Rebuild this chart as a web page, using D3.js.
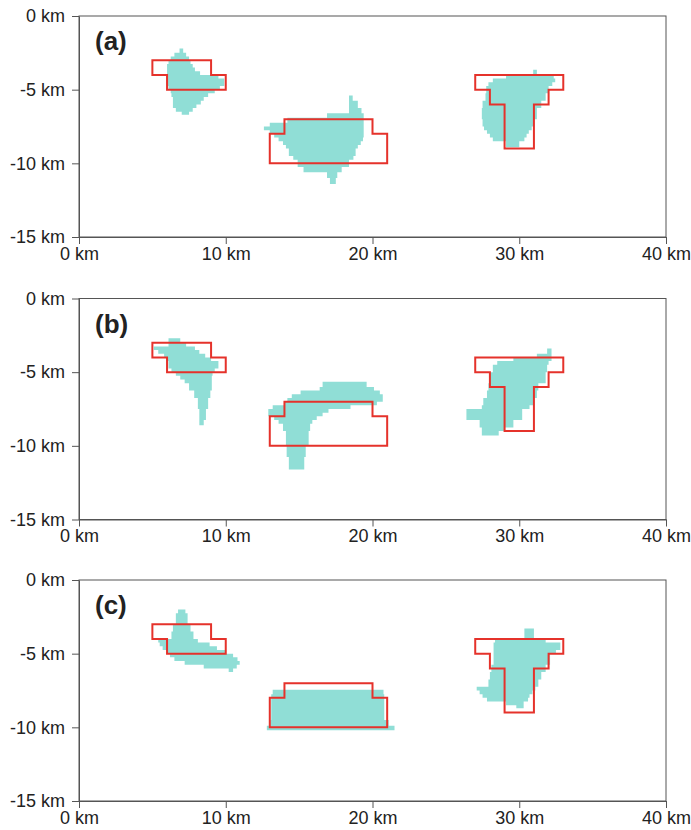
<!DOCTYPE html>
<html>
<head>
<meta charset="utf-8">
<script src="https://cdn.jsdelivr.net/npm/d3@7"></script>
<style>
  body { margin: 0; background: #fff; }
  text { font-family: Arial, "Liberation Sans", sans-serif; }
</style>
</head>
<body>
<script>
// axis ticks (km)
const xTicks = [0, 10, 20, 30, 40]
const yTicks = [0, -5, -10, -15]
const panelLabels = ['(a)', '(b)', '(c)']

// true bodies, outline vertices [x km, z km]
const trueBodies = [
  [[5,-3],[9,-3],[9,-4],[10,-4],[10,-5],[6,-5],[6,-4],[5,-4]],
  [[14,-7],[20,-7],[20,-8],[21,-8],[21,-10],[13,-10],[13,-8],[14,-8]],
  [[27,-4],[33,-4],[33,-5],[32,-5],[32,-6],[31,-6],[31,-9],[29,-9],[29,-6],[28,-6],[28,-5],[27,-5]]
]

// recovered bodies, rows [zTop, zBottom, xLeft, xRight] in km
const blobsA = [
  [[-2.2,-2.5,6.85,7.1],[-2.5,-2.75,6.5,7.3],[-2.75,-3.0,6.25,7.5],[-3.0,-3.25,6.1,7.6],
   [-3.25,-3.5,6.0,7.75],[-3.5,-3.75,6.0,7.9],[-3.75,-4.0,6.0,8.25],[-4.0,-4.25,6.0,9.5],
   [-4.25,-4.75,6.0,9.9],[-4.75,-5.0,6.1,9.6],[-5.0,-5.25,6.25,9.25],[-5.25,-5.5,6.3,8.8],
   [-5.5,-5.75,6.4,8.5],[-5.75,-6.0,6.4,8.3],[-6.0,-6.25,6.4,8.0],[-6.25,-6.5,6.6,7.75],
   [-6.5,-6.7,7.0,7.5]],
  [[-5.4,-5.75,18.4,18.65],[-5.75,-6.25,18.4,19.0],[-6.25,-6.6,18.4,19.25],[-6.6,-6.9,16.9,19.4],
   [-6.9,-7.25,14.2,19.4],[-7.25,-7.5,13.0,19.4],[-7.5,-7.75,12.6,19.4],[-7.75,-8.0,13.0,19.4],
   [-8.0,-8.25,13.3,19.4],[-8.25,-8.5,13.6,19.35],[-8.5,-8.75,13.9,19.2],[-8.75,-9.0,14.1,19.0],
   [-9.0,-9.5,14.3,18.85],[-9.5,-9.75,14.6,18.7],[-9.75,-10.25,14.9,18.4],[-10.25,-10.6,15.3,17.9],
   [-10.6,-11.0,16.9,17.6],[-11.0,-11.4,17.1,17.5]],
  [[-3.65,-4.0,30.95,31.2],[-4.0,-4.25,29.1,32.35],[-4.25,-4.5,28.2,32.45],[-4.5,-4.75,27.9,32.25],
   [-4.75,-5.25,27.75,32.0],[-5.25,-5.75,27.7,31.8],[-5.75,-6.25,27.5,31.5],[-6.25,-7.0,27.45,31.2],
   [-7.0,-7.5,27.5,31.0],[-7.5,-7.75,27.6,30.85],[-7.75,-8.0,27.8,30.65],[-8.0,-8.25,28.0,30.5],
   [-8.25,-8.5,28.2,30.35],[-8.5,-8.9,29.1,30.0]]
]

const blobsB = [
  [[-2.7,-3.0,6.1,6.9],[-3.0,-3.25,6.1,7.3],[-3.25,-3.5,5.1,7.9],[-3.5,-3.75,5.4,8.2],
   [-3.75,-4.0,5.8,8.6],[-4.0,-4.25,6.0,9.0],[-4.25,-4.75,6.1,9.5],[-4.75,-5.0,6.3,9.25],
   [-5.0,-5.25,6.6,9.1],[-5.25,-5.5,6.9,9.05],[-5.5,-5.75,7.2,9.05],[-5.75,-6.25,7.5,9.05],
   [-6.25,-6.75,7.85,8.95],[-6.75,-7.5,8.1,8.8],[-7.5,-8.25,8.2,8.65],[-8.25,-8.6,8.2,8.5]],
  [[-5.65,-6.0,16.6,19.6],[-6.0,-6.25,16.4,20.1],[-6.25,-6.5,15.1,20.5],[-6.5,-6.75,14.5,20.7],
   [-6.75,-7.0,14.2,20.7],[-7.0,-7.25,14.0,20.3],[-7.25,-7.5,13.2,18.5],[-7.5,-7.75,12.9,17.0],
   [-7.75,-8.0,12.9,16.6],[-8.0,-8.25,13.3,16.2],[-8.25,-8.5,13.6,15.9],[-8.5,-9.0,13.9,15.75],
   [-9.0,-10.0,14.1,15.65],[-10.0,-10.75,14.15,15.45],[-10.75,-11.6,14.3,15.35]],
  [[-3.4,-3.75,31.9,32.2],[-3.75,-4.0,31.2,32.2],[-4.0,-4.25,29.6,32.2],[-4.25,-4.5,28.5,32.0],
   [-4.5,-5.0,28.2,31.9],[-5.0,-5.75,28.0,31.8],[-5.75,-6.25,27.9,31.3],[-6.25,-6.75,27.8,31.2],
   [-6.75,-7.25,27.55,30.95],[-7.25,-7.5,27.45,30.7],[-7.5,-8.25,26.4,30.2],[-8.25,-8.75,27.3,29.6],
   [-8.75,-9.0,27.45,29.0],[-9.0,-9.3,27.45,28.6]]
]

const blobsC = [
  [[-2.0,-2.25,6.75,7.25],[-2.25,-3.0,6.6,7.4],[-3.0,-3.5,6.4,7.6],[-3.5,-4.0,6.3,7.8],
   [-4.0,-4.25,5.4,8.1],[-4.25,-4.5,5.5,8.9],[-4.5,-4.75,5.7,9.4],[-4.75,-5.0,6.0,10.0],
   [-5.0,-5.25,6.2,10.5],[-5.25,-5.5,6.5,10.8],[-5.5,-5.75,7.2,10.95],[-5.75,-6.0,8.5,10.75],
   [-6.0,-6.25,10.2,10.5]],
  [[-7.45,-7.75,13.2,20.75],[-7.75,-9.5,13.1,20.8],[-9.5,-9.9,13.05,21.1],[-9.9,-10.2,12.8,21.5]],
  [[-3.3,-4.0,30.35,31.0],[-4.0,-4.25,28.35,31.8],[-4.25,-4.75,28.25,32.8],[-4.75,-5.0,28.25,32.5],
   [-5.0,-5.75,28.25,32.1],[-5.75,-6.25,28.1,31.8],[-6.25,-6.75,28.0,31.5],[-6.75,-7.25,27.9,31.3],
   [-7.25,-7.5,27.1,31.1],[-7.5,-7.75,27.3,30.9],[-7.75,-8.0,27.5,30.7],[-8.0,-8.25,27.8,30.6],
   [-8.25,-8.5,29.1,30.3],[-8.5,-8.7,29.8,30.3]]
]

const panels = [blobsA, blobsB, blobsC]

const W = 691, H = 830
const left = 79, plotW = 587, plotH = 221
const tops = [16, 298.5, 580]

const svg = d3.select('body').append('svg')
  .attr('width', W)
  .attr('height', H)

const x = d3.scaleLinear().domain([0, 40]).range([0, plotW])
const y = d3.scaleLinear().domain([0, -15]).range([0, plotH])

const line = d3.line().x(d => x(d[0])).y(d => y(d[1])).curve(d3.curveLinearClosed)

// staircase outline: right edge going down, left edge coming back up
const blobOutline = rows => {
  const pts = []
  rows.forEach(r => { pts.push([r[3], r[0]]); pts.push([r[3], r[1]]) })
  rows.slice().reverse().forEach(r => { pts.push([r[2], r[1]]); pts.push([r[2], r[0]]) })
  return pts
}

panels.forEach((blobs, p) => {
  const g = svg.append('g').attr('transform', `translate(${left},${tops[p]})`)

  g.selectAll('path.blob')
    .data(blobs)
    .enter()
    .append('path')
    .attr('class', 'blob')
    .attr('d', d => line(blobOutline(d)))
    .attr('fill', '#90ded6')

  g.selectAll('path.body')
    .data(trueBodies)
    .enter()
    .append('path')
    .attr('class', 'body')
    .attr('d', d => line(d))
    .attr('fill', 'none')
    .attr('stroke', '#e5322b')
    .attr('stroke-width', 2)

  g.append('rect')
    .attr('width', plotW)
    .attr('height', plotH)
    .attr('fill', 'none')
    .attr('stroke', '#555')
    .attr('stroke-width', 1)

  const xAxis = g.append('g')
    .attr('transform', `translate(0,${plotH})`)
    .call(d3.axisBottom(x).tickValues(xTicks).tickSize(7).tickSizeOuter(0).tickPadding(3)
      .tickFormat(d => d + ' km'))
  const yAxis = g.append('g')
    .call(d3.axisLeft(y).tickValues(yTicks).tickSize(7).tickSizeOuter(0).tickPadding(7)
      .tickFormat(d => d + ' km'))

  ;[xAxis, yAxis].forEach(a => {
    a.select('.domain').attr('stroke', '#555')
    a.selectAll('.tick line').attr('stroke', '#555')
    a.selectAll('.tick text')
      .attr('fill', '#222')
      .style('font-size', '18px')
      .style('font-family', 'Arial, "Liberation Sans", sans-serif')
  })

  g.append('text')
    .attr('x', 16)
    .attr('y', 34)
    .attr('fill', '#222')
    .style('font-size', '26px')
    .style('font-weight', 'bold')
    .text(panelLabels[p])
})
</script>
</body>
</html>
